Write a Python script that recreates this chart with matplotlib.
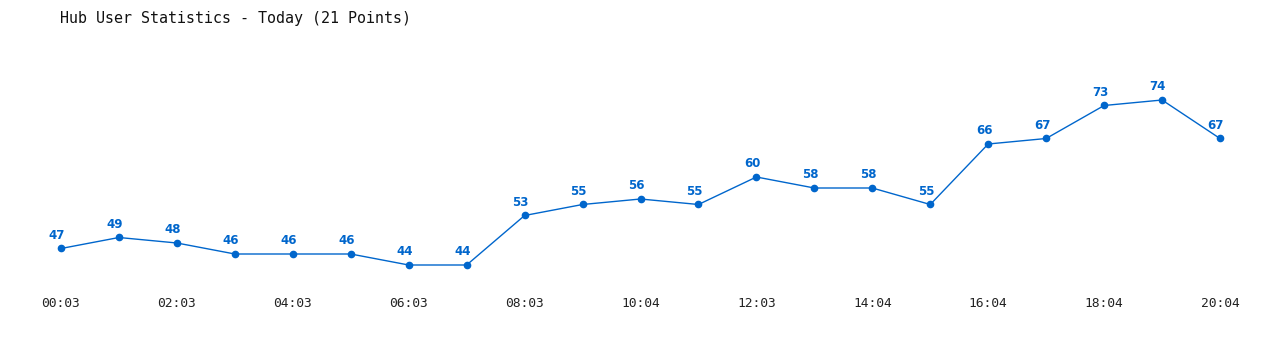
import matplotlib
matplotlib.use("Agg")
import matplotlib.pyplot as plt

# Hub users per sample, today
times = ["00:03", "01:03", "02:03", "03:03", "04:03", "05:03", "06:03", "07:03",
         "08:03", "09:03", "10:04", "11:04", "12:03", "13:04", "14:04", "15:04",
         "16:04", "17:04", "18:04", "19:04", "20:04"]
users = [47, 49, 48, 46, 46, 46, 44, 44, 53, 55, 56, 55, 60, 58, 58, 55,
         66, 67, 73, 74, 67]

blue = "#0066cc"

fig = plt.figure(figsize=(12.8, 3.5), dpi=100)
ax = fig.add_axes([0, 60 / 350, 1, 250 / 350])

x = list(range(len(users)))
ax.plot(x, users, color=blue, lw=1, marker="o", ms=4.5, zorder=3)
for xi, v in zip(x, users):
    ax.annotate(str(v), (xi, v), xytext=(-3, 5), textcoords="offset points",
                ha="center", va="bottom", color=blue, fontsize=8.5,
                fontweight="bold")

ax.set_xlim(-61 / 57.95, 20 + 60 / 57.95)
ax.set_ylim(44 - 25 / 5.5, 74 + 60 / 5.5)
ax.set_xticks(x[::2])
ax.set_xticklabels(times[::2], fontfamily="DejaVu Sans Mono", fontsize=9.3,
                   color="#222222")
ax.tick_params(axis="x", length=0, pad=5)
ax.set_yticks([])
for s in ax.spines.values():
    s.set_visible(False)

fig.text(60 / 1280, 1 - 18 / 350, "Hub User Statistics - Today (21 Points)",
         fontfamily="DejaVu Sans Mono", fontsize=10.8, va="center",
         color="#111111")

fig.savefig("out.png", dpi=100)
